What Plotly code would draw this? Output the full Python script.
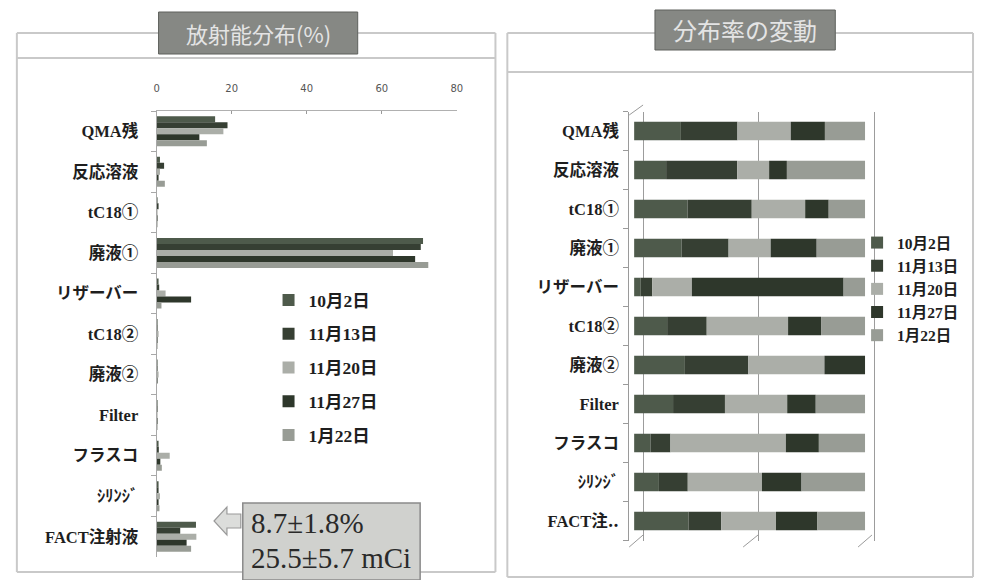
import plotly.graph_objects as go

# ---------------- data ----------------
categories = ["QMA残", "反応溶液", "tC18①", "廃液①", "リザーバー", "tC18②",
              "廃液②", "Filter", "フラスコ", "ｼﾘﾝｼﾞ", "FACT注射液"]
right_ticklabels = ["QMA残", "反応溶液", "tC18①", "廃液①", "リザーバー", "tC18②",
                    "廃液②", "Filter", "フラスコ", "ｼﾘﾝｼﾞ", "FACT注‥"]
series_names = ["10月2日", "11月13日", "11月20日", "11月27日", "1月22日"]

oct02 = [15.6, 0.9, 0.25, 71.0, 0.4, 0.15, 0.20, 0.15, 0.5, 0.30, 10.5]
nov13 = [18.9, 2.0, 0.30, 70.4, 0.7, 0.18, 0.25, 0.20, 0.6, 0.35, 6.3]
nov20 = [17.8, 0.9, 0.25, 63.0, 2.4, 0.37, 0.30, 0.24, 3.5, 0.90, 10.6]
nov27 = [11.4, 0.5, 0.11, 68.9, 9.2, 0.15, 0.16, 0.11, 1.0, 0.48, 8.0]
jan22 = [13.4, 2.2, 0.17, 72.4, 1.3, 0.20, 0.00, 0.19, 1.4, 0.77, 9.2]
series_values = [oct02, nov13, nov20, nov27, jan22]

left_ticks = [0, 20, 40, 60, 80]
title_left = "放射能分布(%)"
title_right = "分布率の変動"
note_lines = ["8.7±1.8%", "25.5±5.7 mCi"]

# ---------------- style ----------------
colors = ["#4e5a4b", "#363f33", "#abaea8", "#2e372b", "#989c95"]
W, H = 981, 580
LBL_FONT = dict(family="Liberation Serif, DejaVu Serif, Noto Sans CJK JP",
                size=16.5, color="#1e1e1e", weight="bold")
LEG_FONT = dict(family="Liberation Serif, Noto Sans CJK JP", size=17.5,
                color="#1e1e1e", weight="bold")
LEG2_FONT = dict(LEG_FONT, size=15.5)


def px(x):
    return x / W


def py(y):
    return 1 - y / H


fig = go.Figure()

# ---- left chart: grouped horizontal bars ----
n = len(series_names)
group_w = 0.74
bw = group_w / n
for i, (name, vals) in enumerate(zip(series_names, series_values)):
    fig.add_trace(go.Bar(
        y=categories, x=vals, orientation="h", name=name,
        marker=dict(color=colors[i], line=dict(width=0)),
        width=bw, offset=-group_w / 2 + i * bw,
        xaxis="x", yaxis="y", legend="legend", legendgroup="L" + str(i),
    ))

# ---- right chart: 100% stacked bars (share of each date per category) ----
totals = [sum(s[j] for s in series_values) for j in range(len(categories))]
cum = [0.0] * len(categories)
for i, (name, vals) in enumerate(zip(series_names, series_values)):
    pct = [v / t * 100 if t else 0 for v, t in zip(vals, totals)]
    fig.add_trace(go.Bar(
        y=categories, x=pct, base=list(cum), orientation="h", name=name,
        marker=dict(color=colors[i], line=dict(width=0)),
        width=0.48, offset=-0.24,
        xaxis="x2", yaxis="y2", legend="legend2", legendgroup="R" + str(i),
    ))
    cum = [c + p for c, p in zip(cum, pct)]

shapes = []
line_col = "#c9c9c9"


def hline(x0, x1, y, col=line_col, w=2):
    shapes.append(dict(type="line", xref="paper", yref="paper", x0=px(x0), x1=px(x1),
                       y0=py(y), y1=py(y), line=dict(color=col, width=w), layer="below"))


def vline(x, y0, y1, col=line_col, w=2):
    shapes.append(dict(type="line", xref="paper", yref="paper", x0=px(x), x1=px(x),
                       y0=py(y0), y1=py(y1), line=dict(color=col, width=w), layer="below"))


# panel frames
vline(14, 33, 572); vline(497, 33, 572)
hline(14, 157, 33); hline(358, 497, 33)
hline(14, 497, 58); hline(14, 497, 572)
vline(509, 33, 577); vline(979, 33, 577)
hline(509, 658, 33); hline(840, 979, 33)
hline(509, 979, 72); hline(509, 979, 577)

# title boxes
for (x0, y0, x1, y1) in [(157, 12, 358, 54), (658, 10, 840, 50)]:
    shapes.append(dict(type="rect", xref="paper", yref="paper",
                       x0=px(x0), x1=px(x1), y0=py(y1), y1=py(y0),
                       fillcolor="#868884", line=dict(color="#5e605c", width=1)))

# 3D perspective strokes of the right chart wall
for (xa, ya, xb, yb) in [(632, 547, 646, 535), (747, 547, 762, 535),
                         (863, 547, 877, 535), (632, 115, 646, 105)]:
    shapes.append(dict(type="line", xref="paper", yref="paper",
                       x0=px(xa), y0=py(ya), x1=px(xb), y1=py(yb),
                       line=dict(color="#9a9a9a", width=1)))

# note box + hollow arrow
shapes.append(dict(type="rect", xref="paper", yref="paper",
                   x0=px(242), x1=px(421), y0=py(580), y1=py(503),
                   fillcolor="#d0d1ce", line=dict(color="#8a8a8a", width=1.5)))
arrow_pts = [(213, 521), (226, 507), (226, 514), (240, 514), (240, 528), (226, 528), (226, 535)]
path = "M " + " L ".join(f"{px(a):.5f},{py(b):.5f}" for a, b in arrow_pts) + " Z"
shapes.append(dict(type="path", xref="paper", yref="paper", path=path,
                   fillcolor="#dcdddb", line=dict(color="#9a9a9a", width=1.2)))

annotations = [
    dict(text=title_left, x=px(257.5), y=py(33), xref="paper", yref="paper",
         xanchor="center", yanchor="middle", showarrow=False,
         font=dict(family="Noto Sans CJK JP", size=22, color="#e4e4e4")),
    dict(text=title_right, x=px(749), y=py(30), xref="paper", yref="paper",
         xanchor="center", yanchor="middle", showarrow=False,
         font=dict(family="Noto Sans CJK JP", size=24, color="#e4e4e4")),
    dict(text=note_lines[0], x=px(248), y=py(523), xref="paper", yref="paper",
         xanchor="left", yanchor="middle", showarrow=False,
         font=dict(family="Liberation Serif", size=29, color="#2a2a2a")),
    dict(text=note_lines[1], x=px(248), y=py(558), xref="paper", yref="paper",
         xanchor="left", yanchor="middle", showarrow=False,
         font=dict(family="Liberation Serif", size=29, color="#2a2a2a")),
]

fig.update_layout(
    width=W, height=H, autosize=False,
    margin=dict(l=0, r=0, t=0, b=0),
    paper_bgcolor="white", plot_bgcolor="rgba(0,0,0,0)",
    barmode="overlay",
    showlegend=True,
    shapes=shapes, annotations=annotations,
    xaxis=dict(domain=[px(155), px(458)], range=[0, 80], side="top",
               tickvals=left_ticks, ticks="inside", ticklen=3, tickcolor="#999",
               showline=True, linecolor="#b0b0b0", linewidth=1, showgrid=False,
               zeroline=False, anchor="y", ticklabelstandoff=14,
               tickfont=dict(family="DejaVu Sans", size=10, color="#555")),
    yaxis=dict(domain=[py(557), py(111)], type="category", autorange="reversed",
               categoryorder="array", categoryarray=categories,
               showline=True, linecolor="#a8a8a8", linewidth=1,
               ticks="outside", tickson="boundaries", ticklen=5, tickcolor="#a8a8a8",
               ticklabelstandoff=14, showgrid=False, anchor="x",
               tickfont=LBL_FONT),
    xaxis2=dict(domain=[px(632), px(880.5)], range=[-2.15, 104.5], tick0=4, dtick=50,
                showticklabels=False, ticks="", showgrid=True, gridcolor="#9c9c9c",
                gridwidth=1, zeroline=False, showline=False, anchor="y2"),
    yaxis2=dict(domain=[py(540.5), py(111.5)], type="category", autorange="reversed",
                categoryorder="array", categoryarray=categories,
                tickvals=categories, ticktext=right_ticklabels,
                showline=True, linecolor="#9a9a9a", linewidth=1,
                ticks="outside", tickson="boundaries", ticklen=5, tickcolor="#9a9a9a",
                ticklabelstandoff=6, showgrid=False, anchor="x2",
                tickfont=LBL_FONT),
    legend=dict(x=px(268), y=py(282), xanchor="left", yanchor="top",
                bgcolor="rgba(0,0,0,0)", font=LEG_FONT, tracegroupgap=8,
                itemwidth=30, traceorder="grouped"),
    legend2=dict(x=px(862), y=py(226), xanchor="left", yanchor="top",
                 bgcolor="rgba(0,0,0,0)", font=LEG2_FONT, tracegroupgap=0,
                 itemwidth=30, traceorder="grouped"),
)

fig.write_html("out.html")
